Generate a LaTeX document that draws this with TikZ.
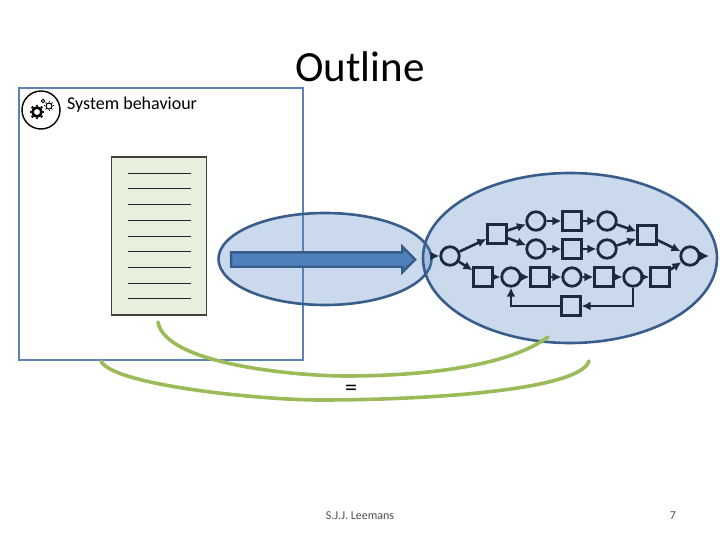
\documentclass[tikz,border=0pt]{standalone}
\usepackage{fontspec}
\setmainfont{Carlito}
\usetikzlibrary{shapes.arrows,shapes.geometric,arrows.meta}
\definecolor{framecol}{HTML}{5A83B3}
\definecolor{edgecol}{HTML}{385D8A}
\definecolor{blobcol}{HTML}{4F81BD}
\definecolor{logcol}{HTML}{E9EFDD}
\definecolor{greencol}{HTML}{9BBB59}
\definecolor{netcol}{HTML}{1B2A41}
\tikzset{
  blob/.style={ellipse,draw=edgecol,fill=blobcol,fill opacity=0.3,line width=2.6pt,inner sep=0pt},
  place/.style={circle,draw=netcol,line width=2.8pt,minimum size=18.5pt,inner sep=0pt},
  tran/.style={rectangle,draw=netcol,line width=2.8pt,minimum size=18.5pt,inner sep=0pt},
  flow/.style={draw=netcol,line width=2.6pt,-{Latex[length=9pt,width=9pt]}},
  bow/.style={draw=greencol,line width=3.6pt,line cap=round},
  logline/.style={draw=black!85,line width=1.3pt},
}
\begin{document}
\begin{tikzpicture}[x=1pt,y=-1pt]
    \useasboundingbox (0,0) rectangle (720,540);
    \node (title) at (360,67) {\fontsize{43}{43}\selectfont Outline};

    \node[draw=framecol,line width=2.8pt,minimum width=284pt,minimum height=272pt,inner sep=0pt] (system) at (161,224) {};
    \node[anchor=west,inner sep=0pt] (systemlabel) at (67,104.5) {\fontsize{18}{18}\selectfont System behaviour};

    % gears
    \node[circle,draw=black,line width=1.4pt,minimum size=38pt,inner sep=0pt] (gearbox) at (41,110) {};
    \node[circle,draw=black,line width=2.6pt,minimum size=9pt,inner sep=0pt] (gearA) at (37,112) {};
    \node[circle,draw=black,line width=1.1pt,minimum size=6pt,inner sep=0pt] (gearB) at (49,106) {};
    \node[circle,draw=black,line width=.9pt,minimum size=3.5pt,inner sep=0pt] (gearC) at (43,101) {};
    \foreach \a in {0,45,...,315}{
        \draw[line width=2.4pt] (gearA.\a) -- ++(\a:1.6pt);
        \draw[line width=1pt] (gearB.\a) -- ++(\a:1.3pt);
    }

    % log
    \node[draw=black!75,fill=logcol,line width=1.8pt,minimum width=95pt,minimum height=158pt,inner sep=0pt] (log) at (159,236) {};
    \foreach \y in {173.5,188.5,204.5,220.5,236.5,251.5,267.5,283.5,298.5}{
        \draw[logline] (128,\y) -- (191,\y);
    }

    \node[blob,minimum width=213pt,minimum height=92pt] (mid) at (325,259) {};
    \node[blob,minimum width=294pt,minimum height=170pt] (net) at (570,258) {};
    \node[single arrow,draw=edgecol,fill=blobcol,line width=2.4pt,minimum width=23pt,minimum height=184pt,single arrow head extend=5.5pt,single arrow head indent=0pt,inner xsep=0pt,inner ysep=6pt] (step) at (319.5,259.5) {};

    % net
    \node[place] (pstart) at (450,256) {};
    \node[tran] (ta) at (497,234) {};
    \node[place] (pa) at (536,221) {};
    \node[tran] (tb) at (572,221) {};
    \node[place] (pb) at (607,221) {};
    \node[place] (pc) at (536,249) {};
    \node[tran] (tc) at (572,249) {};
    \node[place] (pd) at (607,249) {};
    \node[tran] (td) at (647,235) {};
    \node[place] (pend) at (690,256) {};
    \node[tran] (te) at (483,277) {};
    \node[place] (pe) at (511,277) {};
    \node[tran] (tf) at (540,277) {};
    \node[place] (pf) at (572,277) {};
    \node[tran] (tg) at (604,277) {};
    \node[place] (ph) at (633,277) {};
    \node[tran] (th) at (660,277) {};
    \node[tran] (ti) at (571,306) {};
    \coordinate (netin) at (432,256);
    \coordinate (netout) at (709,256);
    \coordinate (loopa) at (633,306);
    \coordinate (loopb) at (511,306);

    \foreach \s/\t in {netin/pstart,pstart/ta,ta/pa,ta/pc,pa/tb,tb/pb,pc/tc,tc/pd,pb/td,pd/td,td/pend,pstart/te,te/pe,pe/tf,tf/pf,pf/tg,tg/ph,ph/th,th/pend,pend/netout}{
        \draw[flow] (\s) -- (\t);
    }
    \draw[flow] (ph) -- (loopa) -- (ti);
    \draw[flow] (ti) -- (loopb) -- (pe);

    % bows
    \coordinate (bowAl) at (158,322);
    \coordinate (bowAr) at (548,337);
    \coordinate (bowBl) at (101,361);
    \coordinate (bowBr) at (589,361);
    \draw[bow] (bowAl) .. controls (165,365) and (300,376) .. (345,376) .. controls (430,376) and (510,365) .. (bowAr);
    \draw[bow] (bowBl) .. controls (112,385) and (260,400) .. (320,400) .. controls (430,400) and (580,390) .. (bowBr);

    \node (same) at (351,390) {\fontsize{24}{24}\selectfont =};
    \node (author) at (360,515.5) {\fontsize{12}{12}\selectfont\color{black!70} S.J.J. Leemans};
    \node (pagenr) at (673,515.5) {\fontsize{12}{12}\selectfont\color{black!70} 7};
\end{tikzpicture}
\end{document}
